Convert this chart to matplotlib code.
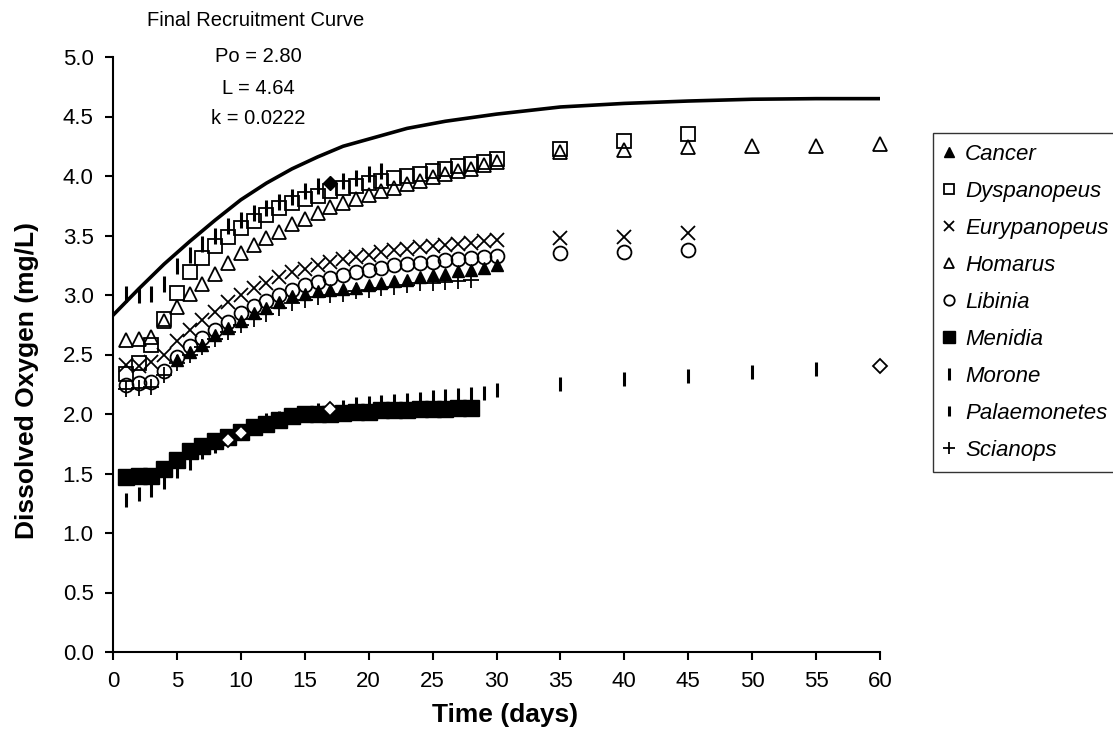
import matplotlib.pyplot as plt

plt.rcParams['font.family'] = ['Liberation Sans', 'DejaVu Sans']

# data
days = list(range(1, 31))
late_days = [35, 40, 45]
late_days_long = [35, 40, 45, 50, 55, 60]

cancer_days = list(range(5, 31))
cancer = [2.45, 2.52, 2.58, 2.66, 2.72, 2.78, 2.85, 2.89, 2.94, 2.99,
          3.01, 3.03, 3.04, 3.05, 3.06, 3.08, 3.10, 3.12, 3.13, 3.15,
          3.17, 3.18, 3.20, 3.21, 3.23, 3.25]

dyspanopeus = [2.34, 2.43, 2.58, 2.80, 3.02, 3.19, 3.31, 3.41, 3.49, 3.56,
               3.62, 3.67, 3.73, 3.77, 3.81, 3.83, 3.87, 3.90, 3.92, 3.94,
               3.96, 3.98, 4.00, 4.02, 4.04, 4.06, 4.08, 4.10, 4.12, 4.14,
               4.23, 4.29, 4.35]

eurypanopeus = [2.41, 2.40, 2.44, 2.50, 2.61, 2.71, 2.79, 2.86, 2.94, 3.00,
                3.06, 3.10, 3.15, 3.19, 3.22, 3.25, 3.28, 3.30, 3.32, 3.34,
                3.36, 3.38, 3.39, 3.40, 3.41, 3.42, 3.43, 3.44, 3.45, 3.46,
                3.48, 3.49, 3.52]

homarus = [2.62, 2.63, 2.65, 2.78, 2.90, 3.01, 3.09, 3.18, 3.27, 3.35,
           3.42, 3.48, 3.53, 3.60, 3.64, 3.69, 3.74, 3.77, 3.81, 3.84,
           3.87, 3.90, 3.93, 3.96, 3.99, 4.02, 4.04, 4.06, 4.09, 4.12,
           4.20, 4.22, 4.24, 4.25, 4.25, 4.27]

libinia = [2.24, 2.26, 2.27, 2.36, 2.48, 2.57, 2.64, 2.71, 2.77, 2.85,
           2.91, 2.95, 3.00, 3.04, 3.08, 3.11, 3.14, 3.17, 3.19, 3.21,
           3.23, 3.25, 3.26, 3.27, 3.28, 3.29, 3.30, 3.31, 3.32, 3.33,
           3.35, 3.36, 3.38]

menidia_days = list(range(1, 29))
menidia = [1.47, 1.48, 1.48, 1.54, 1.61, 1.69, 1.73, 1.77, 1.81, 1.85,
           1.89, 1.92, 1.95, 1.98, 2.00, 2.00, 2.00, 2.01, 2.02, 2.02,
           2.03, 2.03, 2.03, 2.04, 2.04, 2.04, 2.05, 2.05]

morone_days = [1, 2, 3, 4, 5, 6, 7, 8, 9, 10, 11, 12, 13, 14, 15, 16, 18, 19, 20, 21]
morone = [3.01, 3.00, 3.01, 3.09, 3.24, 3.34, 3.43, 3.50, 3.58, 3.63,
          3.69, 3.73, 3.78, 3.82, 3.87, 3.92, 3.96, 3.98, 4.02, 4.04]
morone_diamond_days = [17]
morone_diamond = [3.94]

palaemonetes_days = [1, 2, 3, 4, 5, 6, 7, 8, 11, 12, 13, 14, 15, 16, 18, 19, 20,
                     21, 22, 23, 24, 25, 26, 27, 28, 29, 30, 35, 40, 45, 50, 55]
palaemonetes = [1.28, 1.33, 1.36, 1.43, 1.52, 1.59, 1.68, 1.73, 1.90, 1.95, 1.97,
                1.99, 2.01, 2.03, 2.06, 2.08, 2.09, 2.10, 2.11, 2.12, 2.13, 2.14,
                2.15, 2.16, 2.17, 2.18, 2.20, 2.25, 2.29, 2.32, 2.35, 2.38]
palaemonetes_diamond_days = [9, 10, 17, 60]
palaemonetes_diamond = [1.78, 1.84, 2.04, 2.40]

scianops_days = list(range(1, 29))
scianops = [2.21, 2.22, 2.23, 2.33, 2.43, 2.50, 2.56, 2.63, 2.69, 2.75,
            2.80, 2.84, 2.89, 2.93, 2.96, 2.98, 3.00, 3.01, 3.03, 3.04,
            3.06, 3.07, 3.08, 3.10, 3.10, 3.11, 3.12, 3.13]

curve_days = [0, 2, 4, 6, 8, 10, 12, 14, 16, 18, 20, 23, 26, 30, 35, 40, 45, 50, 55, 60]
curve = [2.83, 3.05, 3.26, 3.45, 3.63, 3.80, 3.94, 4.06, 4.16, 4.25,
         4.31, 4.40, 4.46, 4.52, 4.58, 4.61, 4.63, 4.645, 4.65, 4.65]

fig = plt.figure(figsize=(11.13, 7.51), dpi=100)
ax = fig.add_axes([113 / 1113, 99 / 751, 767 / 1113, 595 / 751])

# recruitment curve
ax.plot(curve_days, curve, color='black', lw=2.6, zorder=2)

open_kw = dict(ls='none', mfc='none', mec='black', mew=1.3, clip_on=False, zorder=3)
ax.plot(cancer_days, cancer, ls='none', marker='^', ms=9, color='black',
        clip_on=False, zorder=3, label='Cancer')
ax.plot(days + late_days, dyspanopeus, marker='s', ms=10, label='Dyspanopeus', **open_kw)
ax.plot(days + late_days, eurypanopeus, marker='x', ms=10, color='black', ls='none',
        mew=1.3, clip_on=False, zorder=3, label='Eurypanopeus')
ax.plot(days + late_days_long, homarus, marker='^', ms=10, label='Homarus', **open_kw)
ax.plot(days + late_days, libinia, marker='o', ms=10, label='Libinia', **open_kw)
ax.plot(menidia_days, menidia, ls='none', marker='s', ms=11, color='black',
        zorder=3, label='Menidia')
ax.plot(morone_days, morone, ls='none', marker='|', ms=11, mew=2.2, color='black',
        zorder=3, label='Morone')
ax.plot(palaemonetes_days, palaemonetes, ls='none', marker='|', ms=10, mew=2.2,
        color='black', zorder=3, label='Palaemonetes')
ax.plot(scianops_days, scianops, ls='none', marker='+', ms=11, mew=1.3,
        color='black', zorder=3, label='Scianops')

# odd single points drawn as diamonds
ax.plot(morone_diamond_days, morone_diamond, ls='none', marker='D', ms=7,
        color='black', zorder=4)
ax.plot(palaemonetes_diamond_days, palaemonetes_diamond, ls='none', marker='D', ms=7,
        mfc='white', mec='black', mew=1.3, clip_on=False, zorder=4)

ax.set_xlim(0, 60)
ax.set_ylim(0, 5)
ax.set_xticks(range(0, 61, 5))
ax.set_yticks([i * 0.5 for i in range(11)])
ax.set_yticklabels(['%.1f' % (i * 0.5) for i in range(11)])
ax.tick_params(direction='out', length=6, width=1.5, labelsize=16, pad=8)
for s in ['top', 'right']:
    ax.spines[s].set_visible(False)
for s in ['left', 'bottom']:
    ax.spines[s].set_linewidth(1.5)

ax.set_xlabel('Time (days)', fontsize=19, fontweight='bold')
ax.set_ylabel('Dissolved Oxygen (mg/L)', fontsize=19, fontweight='bold')
ax.xaxis.set_label_coords(0.511, -0.085)
ax.yaxis.set_label_coords(-0.097, 0.457)

# curve parameters
fig.text(256 / 1113, 1 - 20 / 751, 'Final Recruitment Curve', ha='center', va='center', fontsize=14.5)
fig.text(258 / 1113, 1 - 57 / 751, 'Po = 2.80', ha='center', va='center', fontsize=14.5)
fig.text(258 / 1113, 1 - 88 / 751, 'L = 4.64', ha='center', va='center', fontsize=14.5)
fig.text(258 / 1113, 1 - 119 / 751, 'k = 0.0222', ha='center', va='center', fontsize=14.5)

leg = ax.legend(loc='upper left', bbox_to_anchor=(933 / 1113, 1 - 133 / 751),
                bbox_transform=fig.transFigure, borderaxespad=0, frameon=True,
                fancybox=False, edgecolor='black', fontsize=16, markerscale=0.75,
                handlelength=0.4, handletextpad=0.55, labelspacing=0.72, borderpad=0.5)
leg.get_frame().set_linewidth(1.0)
for t in leg.get_texts():
    t.set_fontstyle('italic')

plt.savefig('out.png', dpi=100)
